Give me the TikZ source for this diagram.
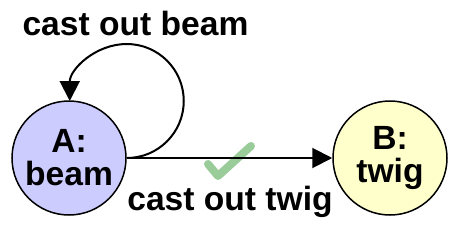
\documentclass[tikz,border=0pt]{standalone}
\usepackage{fontspec}
\setmainfont{Liberation Sans}
\usetikzlibrary{arrows.meta}
\definecolor{nodeA}{RGB}{204,204,255}
\definecolor{nodeB}{RGB}{255,255,204}
\definecolor{checkgreen}{RGB}{153,204,153}
\tikzset{
  state/.style={circle, draw=black, line width=1.5pt, minimum size=114pt, inner sep=0pt, align=center, font=\fontsize{33.6}{33}\selectfont\bfseries},
  lbl/.style={anchor=base, inner sep=0pt, font=\fontsize{33.6}{33}\selectfont\bfseries},
  edge/.style={line width=2pt, -{Triangle[length=20pt,width=20pt]}},
  checkmark/.style={line width=8pt, line cap=round, line join=round, draw=checkgreen}
}
\begin{document}
\begin{tikzpicture}[x=1pt, y=-1pt]
\useasboundingbox (0,0) rectangle (460,228);
\draw[checkmark] (208,164) -- (218,176) -- (251,146);
\node[state, fill=nodeA] (A) at (69,158) {A:\\beam};
\node[state, fill=nodeB] (B) at (390,158) {B:\\twig};
\draw[edge] (A.east) -- (B.west);
\draw[edge] (A.east) arc[start angle=90, end angle=-180, radius=57];
\node[lbl] (la) at (135.5,35) {cast out beam};
\node[lbl] (lb) at (230,210) {cast out twig};
\end{tikzpicture}
\end{document}
